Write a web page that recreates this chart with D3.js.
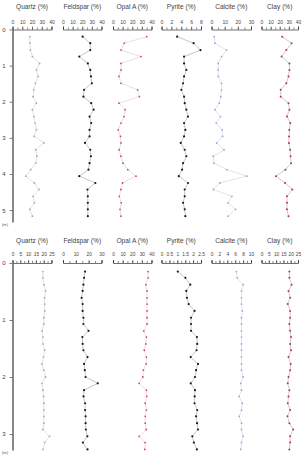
<!DOCTYPE html>
<html>
<head>
<meta charset="utf-8">
<script src="https://cdn.jsdelivr.net/npm/d3@7"></script>
<style>
  body { margin: 0; background: #fff; }
  svg { display: block; font-family: "Liberation Sans", Arial, sans-serif; }
</style>
</head>
<body>
<div id="chart"></div>
<script>
// column names and axis setup
var minerals = ["Quartz (%)", "Feldspar (%)", "Opal A (%)", "Pyrite (%)", "Calcite (%)", "Clay (%)"];

// upper core
var topDepth = [0.20,0.38,0.57,0.75,0.94,1.12,1.30,1.49,1.67,1.86,2.04,2.22,2.41,2.59,2.78,2.96,3.14,3.33,3.51,3.70,3.88,4.06,4.25,4.43,4.62,4.80,4.98,5.17];
var topQuartz = [17.7,17.7,18.4,20.4,27.8,24.5,26.2,23.5,21.8,21.1,24.5,20.4,22.0,23.1,24.5,22.1,32.2,23.8,25.1,23.8,18.7,13.7,22.5,27.1,21.1,22.5,17.7,20.4];
var topFeldspar = [20.4,28.3,28.3,16.9,25.8,28.3,29.0,30.0,21.9,21.2,29.3,31.8,27.6,29.3,27.6,27.6,22.9,28.3,29.0,27.6,26.5,16.9,33.6,25.4,25.8,25.8,25.8,25.8];
var topOpal = [35.0,11.7,8.3,29.1,8.3,8.3,6.2,8.3,25.6,27.4,6.2,12.5,11.4,8.3,5.5,7.8,8.3,6.4,8.2,10.4,15.4,23.9,9.9,8.2,6.6,8.5,7.3,8.2];
var topPyrite = [3.17,6.5,7.9,4.57,4.57,5.03,4.57,4.37,4.03,4.57,4.7,5.03,5.37,4.57,4.83,4.57,3.9,4.7,5.03,4.37,4.17,3.5,5.37,4.7,4.7,4.37,4.7,4.83];
var topCalcite = [2.1,2.6,11.4,7.6,5.1,5.1,5.1,7.6,7.6,7.1,5.9,2.6,6.8,3.6,8.0,8.4,3.9,9.5,1.4,1.8,11.6,26.8,6.4,1.4,15.5,12.5,18.2,12.6];
var topClay = [22.7,33.0,27.2,22.0,30.6,30.6,29.6,27.2,21.0,21.0,29.6,30.6,27.9,31.5,30.5,30.2,30.0,31.3,31.8,32.4,26.2,15.8,25.8,33.8,27.9,27.9,27.9,29.6];
var topMax = [40, 40, 40, 8, 30, 40];
var topLabels = [[0,10,20,30,40],[0,10,20,30,40],[0,10,20,30,40],[0,2,4,6,8],[0,10,20,30],[0,10,20,30,40]];
var topMinor = [5, 5, 5, 1, 5, 5];
var topDepthTicks = [0,1,2,3,4,5];

// lower core
var botDepth = [0.15,0.26,0.38,0.49,0.61,0.72,0.84,0.96,1.07,1.19,1.30,1.42,1.53,1.65,1.77,1.88,2.00,2.11,2.23,2.34,2.46,2.58,2.69,2.81,2.92,3.04,3.15,3.27];
var botQuartz = [19.5,19.5,20.1,21.2,20.6,20.6,20.6,20.1,20.1,18.9,19.5,19.5,20.6,19.9,18.9,20.1,21.2,18.9,19.5,19.9,20.1,20.1,20.1,20.1,19.5,23.7,20.6,19.5];
var botFeldspar = [17.2,16.4,15.9,15.3,14.5,15.3,15.3,15.9,15.9,19.9,15.1,15.3,15.9,19.1,16.4,17.0,17.6,27.1,16.4,16.0,17.2,17.2,17.6,17.6,17.8,19.0,15.5,19.1];
var botOpal = [36.5,36.5,34.1,35.4,35.4,35.4,35.4,35.4,35.4,32.0,34.7,34.1,32.5,34.7,34.5,31.6,31.0,27.1,34.7,35.0,33.5,34.7,33.5,33.5,34.5,27.1,33.4,33.0];
var botPyrite = [1.03,1.51,1.82,1.57,1.61,1.72,2.09,1.87,1.87,1.87,2.24,2.26,2.22,1.85,2.31,2.19,2.12,1.85,2.12,2.10,2.09,2.26,2.19,2.25,2.31,1.95,2.05,2.24];
var botCalcite = [6.3,6.5,8.0,7.6,7.6,7.6,7.8,7.6,7.6,7.6,7.6,7.6,7.6,7.6,7.6,7.6,8.0,7.4,7.6,7.0,7.8,7.6,7.0,7.6,7.6,8.0,7.6,7.4];
var botClay = [19.1,19.1,20.6,18.5,19.6,18.0,19.6,19.6,19.1,19.6,20.2,19.6,20.2,18.5,20.0,19.6,18.5,18.0,19.1,18.5,18.0,19.6,17.8,19.1,21.7,19.6,19.6,19.1];
var botMax = [25, 30, 40, 2.5, 10, 25];
var botLabels = [[0,5,10,15,20,25],[0,10,20,30],[0,10,20,30,40],[0,0.5,1,1.5,2,2.5],[0,2,4,6,8,10],[0,5,10,15,20,25]];
var botMinor = [2.5, 5, 5, 0.25, 1, 2.5];
var botDepthTicks = [0,1,2,3];

const width = 302, height = 459;
var colLeft = [12.5, 63, 113, 161.5, 211.5, 261.5];
var colWidth = [39, 38.5, 38.5, 39.5, 39.5, 36.5];

// line colour, marker colour, marker radius
var styles = [
  {line: "#cfcfcf", dot: "#a8a8a8", r: 0.9},
  {line: "#a0a0a0", dot: "#1a1a1a", r: 1.1},
  {line: "#d8c8cc", dot: "#e0405a", r: 0.9},
  {line: "#a0a0a0", dot: "#1a1a1a", r: 1.1},
  {line: "#d0d0d0", dot: "#8eaae6", r: 0.9},
  {line: "#a8a8a8", dot: "#c0304c", r: 1.0}
];

var svg = d3.select("#chart").append("svg")
  .attr("width", width)
  .attr("height", height);

function drawPanel(p) {
  var y = d3.scaleLinear().domain([0, p.depthEnd]).range([p.y0, p.y1]);

  var g = svg.append("g");

  p.series.forEach(function(vals, i) {
    var x = d3.scaleLinear().domain([0, p.max[i]]).range([colLeft[i], colLeft[i] + colWidth[i]]);
    var col = g.append("g");

    // title
    col.append("text")
      .attr("x", colLeft[i] + colWidth[i] / 2)
      .attr("y", p.titleY)
      .attr("text-anchor", "middle")
      .attr("font-size", "6.6px")
      .attr("fill", "#444")
      .text(minerals[i]);

    // minor ticks
    col.append("g")
      .attr("transform", `translate(0, ${p.y0})`)
      .call(d3.axisTop(x).tickValues(d3.range(0, p.max[i] + 1e-9, p.minor[i])).tickSize(2).tickSizeOuter(0).tickFormat(""))
      .call(a => a.select(".domain").remove())
      .call(a => a.selectAll("line").attr("stroke", "#333").attr("stroke-width", 0.6));

    // major ticks and labels
    col.append("g")
      .attr("transform", `translate(0, ${p.y0})`)
      .call(d3.axisTop(x).tickValues(p.labels[i]).tickSize(3).tickSizeOuter(3).tickPadding(p.pad).tickFormat(d3.format("")))
      .call(a => a.select(".domain").attr("stroke", "#333").attr("stroke-width", 0.7))
      .call(a => a.selectAll("line").attr("stroke", "#333").attr("stroke-width", 0.6))
      .call(a => a.selectAll("text").attr("font-size", p.tickFont).attr("fill", "#444").attr("font-family", "Liberation Sans, Arial, sans-serif"));

    var pts = vals.map((v, k) => ({v: v, d: p.depth[k]}));

    var line = d3.line()
      .x(d => x(d.v))
      .y(d => y(d.d));

    col.append("path")
      .attr("d", line(pts))
      .attr("fill", "none")
      .attr("stroke", styles[i].line)
      .attr("stroke-width", 0.6);

    col.selectAll("circle")
      .data(pts).enter()
      .append("circle")
      .attr("cx", d => x(d.v))
      .attr("cy", d => y(d.d))
      .attr("r", styles[i].r)
      .attr("fill", styles[i].dot);
  });

  // depth axis
  g.append("g")
    .attr("transform", `translate(${colLeft[0]}, 0)`)
    .call(d3.axisLeft(y).tickValues(p.depthTicks).tickSize(3).tickSizeOuter(0).tickPadding(4).tickFormat(d3.format("d")))
    .call(a => a.select(".domain").attr("stroke", "#555").attr("stroke-width", 1.4))
    .call(a => a.selectAll("line").attr("stroke", "#444").attr("stroke-width", 0.7))
    .call(a => a.selectAll("text").attr("font-size", "6px").attr("fill", "#444").attr("font-family", "Liberation Sans, Arial, sans-serif"));

  g.append("text")
    .attr("x", 2)
    .attr("y", p.y1 + 4)
    .attr("font-size", "4px")
    .attr("fill", "#555")
    .text("(m)");
}

drawPanel({
  depth: topDepth,
  series: [topQuartz, topFeldspar, topOpal, topPyrite, topCalcite, topClay],
  max: topMax, labels: topLabels, minor: topMinor, depthTicks: topDepthTicks,
  depthEnd: 5.33, y0: 29.5, y1: 222, titleY: 8.5, pad: 3, tickFont: "5px"
});

drawPanel({
  depth: botDepth,
  series: [botQuartz, botFeldspar, botOpal, botPyrite, botCalcite, botClay],
  max: botMax, labels: botLabels, minor: botMinor, depthTicks: botDepthTicks,
  depthEnd: 3.28, y0: 263, y1: 450, titleY: 243, pad: 4, tickFont: "4.8px"
});
</script>
</body>
</html>
